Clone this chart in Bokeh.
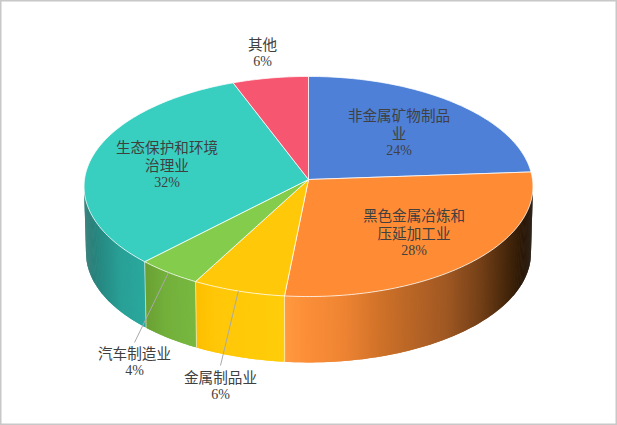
import numpy as np
from bokeh.plotting import figure
from bokeh.embed import file_html
from bokeh.resources import INLINE
from bokeh.core.properties import value

categories = ["非金属矿物制品业", "黑色金属冶炼和压延加工业", "金属制品业", "汽车制造业", "生态保护和环境治理业", "其他"]
values = [23.9, 27.7, 6.3, 4.4, 31.9, 5.8]

top_colors = ["#4e80d8", "#ff8c35", "#ffc90a", "#83cc4c", "#39cfc0", "#f6566f"]
wall_stops = {
    0: ([0, 1], ["#4e80d8", "#4e80d8"]),
    1: ([285, 305, 345, 380, 447, 480, 513, 532], ["#ff9a42", "#fc8f38", "#ee8433", "#d07229", "#a05823", "#764118", "#3d2209", "#1c0f05"]),
    2: ([196, 215, 285], ["#fdbf00", "#ffc708", "#ffcd0a"]),
    3: ([145, 165, 196], ["#6aa033", "#72b03b", "#78b840"]),
    4: ([84, 100, 120, 144], ["#2a7872", "#268a83", "#29a096", "#2aa89e"]),
    5: ([0, 1], ["#f6566f", "#f6566f"]),
}

# label lines per slice: (x, y of first line, text lines)
label_layout = {
    0: (398.5, 114, ["非金属矿物制品", "业"]),
    1: (413.5, 214, ["黑色金属冶炼和", "压延加工业"]),
    2: (220, 376, ["金属制品业"]),
    3: (134, 352, ["汽车制造业"]),
    4: (166.5, 146, ["生态保护和环境", "治理业"]),
    5: (262, 43, ["其他"]),
}
leader_end = {2: (220, 365), 3: (134, 342)}

CX, CY = 308.0, 179.0
A, B, K = 224.0, 109.6, 0.0636
A2, B2, DEPTH = 222.0, 109.0, 66.5


def top(theta):
    s, c = np.sin(theta), np.cos(theta)
    w = 1 + K * c
    return CX + A * s / w, CY - B * c / w


def bottom(theta):
    s, c = np.sin(theta), np.cos(theta)
    w = 1 + K * c
    return CX + A2 * s / w, CY + DEPTH - B2 * c / w


def hex2rgb(h):
    return np.array([int(h[i:i + 2], 16) for i in (1, 3, 5)], dtype=float)


def shade(i, x):
    xs, cols = wall_stops[i]
    rgb = np.array([hex2rgb(c) for c in cols])
    out = [int(round(np.interp(x, xs, rgb[:, k]))) for k in range(3)]
    return "#%02x%02x%02x" % tuple(out)


fractions = np.cumsum([0] + values) / sum(values)
angles = fractions * 2 * np.pi

p = figure(width=617, height=425, x_range=(0, 617), y_range=(425, 0),
           output_backend="svg", toolbar_location=None, min_border=0,
           margin=0, background_fill_color="white")
p.axis.visible = False
p.grid.visible = False
p.outline_line_color = "#c8c8c8"
p.outline_line_width = 2

# extruded wall, visible part only
right_lim = np.radians(93.6)
left_lim = np.radians(266.4)
qx, qy, qc = [], [], []
edges = []
for i in range(len(values)):
    a0, a1 = max(angles[i], right_lim), min(angles[i + 1], left_lim)
    if a1 <= a0:
        continue
    n = int(np.degrees(a1 - a0) / 0.5) + 1
    th = np.linspace(a0, a1, n + 1)
    # painted back to front so each strip overlaps its neighbour and no seams show
    for j in range(n):
        end = min(j + 2, n)
        tx0, ty0 = top(th[j])
        tx1, ty1 = top(th[end])
        bx0, by0 = bottom(th[j])
        bx1, by1 = bottom(th[end])
        qx.append([tx0, tx1, bx1, bx0])
        qy.append([ty0, ty1, by1, by0])
        qc.append(shade(i, tx0))
    if angles[i + 1] < left_lim:
        edges.append(angles[i + 1])
p.patches(qx, qy, fill_color=qc, line_color=None)
for a in edges:
    tx, ty = top(a)
    bx, by = bottom(a)
    p.line([tx, bx], [ty, by], line_color="white", line_alpha=0.55, line_width=1)

# top face
for i in range(len(values)):
    n = max(int(np.degrees(angles[i + 1] - angles[i])), 2)
    th = np.linspace(angles[i], angles[i + 1], n + 1)
    x, y = top(th)
    p.patch(np.r_[CX, x], np.r_[CY, y], fill_color=top_colors[i],
            line_color="white", line_alpha=0.75, line_width=1)

# leader lines
for i, (ex, ey) in leader_end.items():
    mx, my = top((angles[i] + angles[i + 1]) / 2)
    p.line([mx, ex], [my, ey], line_color="#a9a9a9", line_width=1)

# labels
tx, ty, tt = [], [], []
px, py, pt = [], [], []
for i, cat in enumerate(categories):
    x0, y0, lines = label_layout[i]
    y = y0
    for ln in lines:
        tx.append(x0); ty.append(y); tt.append(ln)
        y += 17.5
    px.append(x0); py.append(y + 0.5); pt.append(f"{round(values[i])}%")
p.text(tx, ty, text=tt, text_font=value("Noto Sans CJK SC"), text_font_size="14.6px",
       text_color="#404040", text_align="center", text_baseline="middle")
p.text(px, py, text=pt, text_font=value("Liberation Sans Narrow"), text_font_size="14px",
       text_color="#404040", text_align="center", text_baseline="middle")

open("out.html", "w").write(file_html(p, INLINE))
